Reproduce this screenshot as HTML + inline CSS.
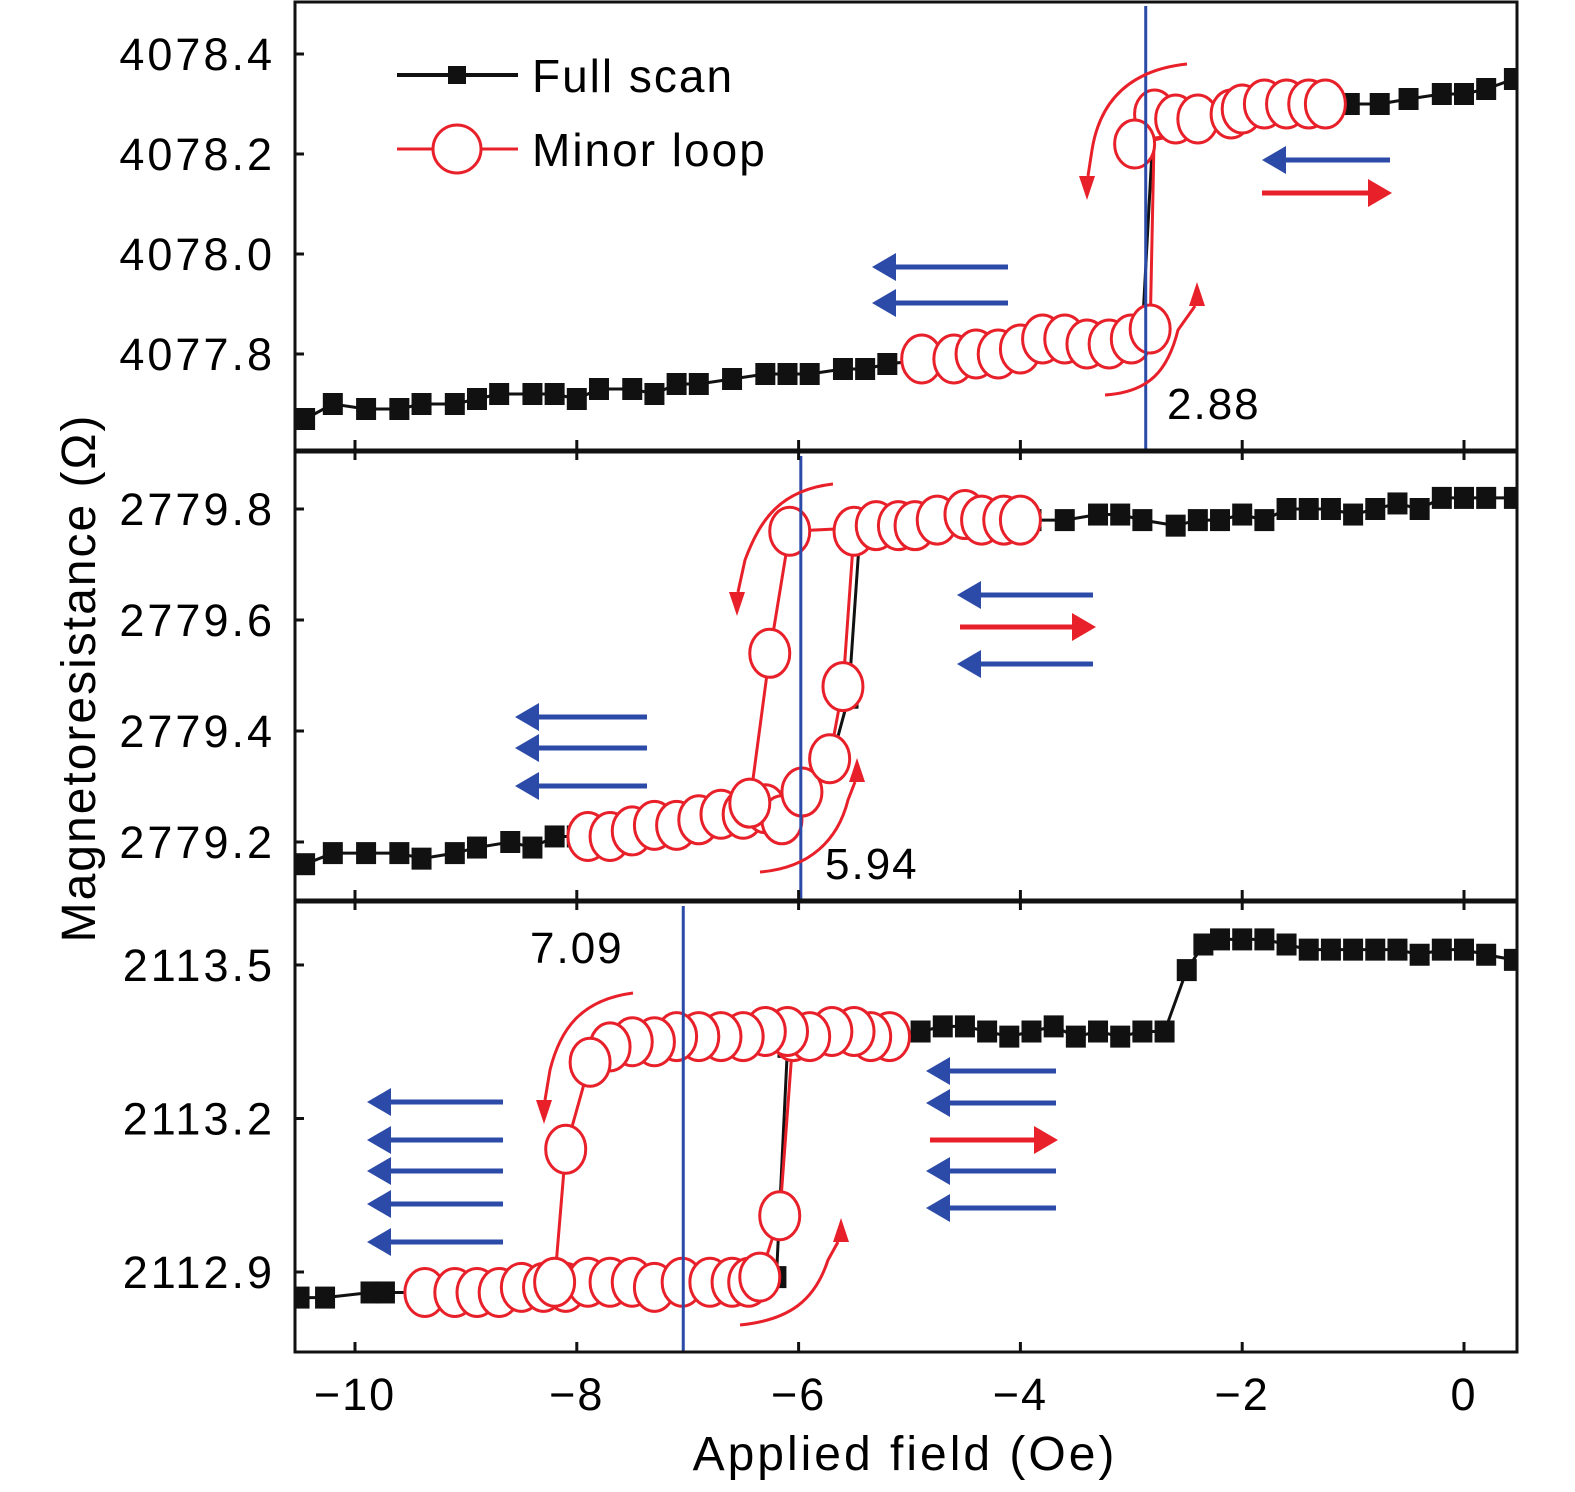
<!DOCTYPE html>
<html><head><meta charset="utf-8"><style>
body{margin:0;background:#fff}
svg{display:block}
text{font-family:"Liberation Sans",sans-serif}
</style></head><body>
<svg id="chart" width="1575" height="1492" viewBox="0 0 1575 1492" xmlns="http://www.w3.org/2000/svg">
<g id="plots"></g>
<g id="annot"></g>
<text x="0" y="0" transform="translate(95,678) rotate(-90)" text-anchor="middle" font-size="48" letter-spacing="2">Magnetoresistance (Ω)</text>
<text x="905" y="1470" text-anchor="middle" font-size="48" letter-spacing="3">Applied field (Oe)</text>
<g>
<line x1="397" y1="75" x2="518" y2="75" stroke="#111" stroke-width="4"/>
<rect x="448" y="66" width="18" height="18" fill="#111"/>
<text x="532" y="92" font-size="46" letter-spacing="2">Full scan</text>
<line x1="397" y1="149" x2="518" y2="149" stroke="#e8202a" stroke-width="3"/>
<ellipse cx="457" cy="149" rx="24" ry="24" fill="#fff" stroke="#e8202a" stroke-width="3"/>
<text x="532" y="166" font-size="46" letter-spacing="2">Minor loop</text>
</g>
</svg>
<script>
const xTicks=[-10,-8,-6,-4,-2,0];
const p1Ticks=[4077.8,4078.0,4078.2,4078.4];
const p2Ticks=[2779.2,2779.4,2779.6,2779.8];
const p3Ticks=[2112.9,2113.2,2113.5];
const p1FullX=[-10.45,-10.2,-9.9,-9.6,-9.4,-9.1,-8.9,-8.7,-8.4,-8.2,-8.0,-7.8,-7.5,-7.3,-7.1,-6.9,-6.6,-6.3,-6.1,-5.9,-5.6,-5.4,-5.2,-4.8,-4.4,-4.0,-3.6,-3.2,-2.9,-2.8,-2.4,-2.0,-1.6,-1.25,-1.03,-0.76,-0.5,-0.2,0.0,0.2,0.45];
const p1FullY=[4077.67,4077.70,4077.69,4077.69,4077.70,4077.70,4077.71,4077.72,4077.72,4077.72,4077.71,4077.73,4077.73,4077.72,4077.74,4077.74,4077.75,4077.76,4077.76,4077.76,4077.77,4077.77,4077.78,4077.79,4077.80,4077.81,4077.82,4077.83,4077.85,4078.26,4078.27,4078.28,4078.29,4078.29,4078.30,4078.30,4078.31,4078.32,4078.32,4078.33,4078.35];
const p1LoopX=[-4.89,-4.6,-4.4,-4.2,-4.0,-3.8,-3.6,-3.4,-3.2,-3.0,-2.83,-2.79,-2.6,-2.4,-2.1,-2.0,-1.8,-1.6,-1.4,-1.25,-2.97];
const p1LoopY=[4077.79,4077.79,4077.80,4077.80,4077.81,4077.83,4077.83,4077.82,4077.82,4077.83,4077.85,4078.28,4078.27,4078.27,4078.28,4078.29,4078.30,4078.30,4078.30,4078.30,4078.22];
const p2FullX=[-10.45,-10.2,-9.9,-9.6,-9.4,-9.1,-8.9,-8.6,-8.4,-8.2,-8.0,-7.6,-7.2,-6.8,-6.4,-6.0,-5.7,-5.55,-5.45,-5.0,-4.5,-3.9,-3.6,-3.3,-3.1,-2.9,-2.6,-2.4,-2.2,-2.0,-1.8,-1.6,-1.4,-1.2,-1.0,-0.8,-0.6,-0.4,-0.2,0,0.2,0.45];
const p2FullY=[2779.16,2779.18,2779.18,2779.18,2779.17,2779.18,2779.19,2779.20,2779.19,2779.21,2779.21,2779.22,2779.23,2779.24,2779.25,2779.28,2779.35,2779.46,2779.75,2779.77,2779.77,2779.78,2779.78,2779.79,2779.79,2779.78,2779.77,2779.78,2779.78,2779.79,2779.78,2779.80,2779.80,2779.80,2779.79,2779.80,2779.81,2779.80,2779.82,2779.82,2779.82,2779.82];
const p2LoopX=[-7.9,-7.7,-7.5,-7.3,-7.1,-6.9,-6.7,-6.5,-6.3,-6.15,-5.97,-5.72,-5.6,-5.5,-5.3,-5.1,-4.95,-4.75,-4.5,-4.35,-4.15,-4.0,-6.08,-6.26,-6.44];
const p2LoopY=[2779.21,2779.21,2779.22,2779.23,2779.23,2779.24,2779.25,2779.25,2779.26,2779.24,2779.29,2779.35,2779.48,2779.76,2779.77,2779.77,2779.77,2779.78,2779.79,2779.78,2779.78,2779.78,2779.76,2779.54,2779.27];
const p3FullX=[-10.5,-10.27,-9.86,-9.73,-9.3,-8.5,-7.5,-6.5,-6.2,-6.1,-5.5,-4.9,-4.7,-4.5,-4.3,-4.1,-3.9,-3.7,-3.5,-3.3,-3.1,-2.9,-2.7,-2.5,-2.35,-2.2,-2.0,-1.8,-1.6,-1.4,-1.2,-1.0,-0.8,-0.6,-0.4,-0.2,0,0.2,0.45];
const p3FullY=[2112.85,2112.85,2112.86,2112.86,2112.86,2112.87,2112.87,2112.88,2112.89,2113.34,2113.36,2113.37,2113.38,2113.38,2113.37,2113.36,2113.37,2113.38,2113.36,2113.37,2113.36,2113.37,2113.37,2113.49,2113.54,2113.55,2113.55,2113.55,2113.54,2113.53,2113.53,2113.53,2113.53,2113.53,2113.52,2113.53,2113.53,2113.52,2113.51];
const p3LoopX=[-9.37,-9.1,-8.9,-8.7,-8.5,-8.3,-8.1,-7.9,-7.7,-7.5,-7.3,-7.05,-6.8,-6.6,-6.45,-6.35,-6.17,-6.05,-5.18,-5.35,-5.5,-5.7,-5.9,-6.1,-6.3,-6.5,-6.7,-6.9,-7.1,-7.3,-7.5,-7.7,-7.88,-8.1,-8.2];
const p3LoopY=[2112.86,2112.86,2112.86,2112.86,2112.87,2112.87,2112.87,2112.88,2112.88,2112.88,2112.87,2112.88,2112.88,2112.88,2112.88,2112.89,2113.01,2113.36,2113.36,2113.36,2113.37,2113.37,2113.36,2113.37,2113.37,2113.36,2113.36,2113.36,2113.36,2113.35,2113.35,2113.34,2113.31,2113.14,2112.88];
const vlineX=[-2.87,-5.98,-7.04];
const vlineLabels=["2.88","5.94","7.09"];

const NS="http://www.w3.org/2000/svg";
const X0=295,X1=1517;
function xs(f){return 1464+110.9*f;}
const panels=[
 {top:2,bot:450,ys:v=>354-(v-4077.8)*500,ticks:p1Ticks,fx:p1FullX,fy:p1FullY,lx:p1LoopX,ly:p1LoopY,vl:vlineX[0],lab:vlineLabels[0],lp:[1167,419]},
 {top:452,bot:900,ys:v=>842-(v-2779.2)*555,ticks:p2Ticks,fx:p2FullX,fy:p2FullY,lx:p2LoopX,ly:p2LoopY,vl:vlineX[1],lab:vlineLabels[1],lp:[825,879]},
 {top:902,bot:1352,ys:v=>1272-(v-2112.9)*511.7,ticks:p3Ticks,fx:p3FullX,fy:p3FullY,lx:p3LoopX,ly:p3LoopY,vl:vlineX[2],lab:vlineLabels[2],lp:[530,963]}
];
function mk(tag,attrs,parent){const e=document.createElementNS(NS,tag);for(const k in attrs)e.setAttribute(k,attrs[k]);parent.appendChild(e);return e;}
const root=document.getElementById('plots');
panels.forEach((p,i)=>{
 const g=mk('g',{},root);
 
 
 const cp=mk('clipPath',{id:'cp'+i},g);
 mk('rect',{x:X0,y:p.top,width:X1-X0,height:p.bot-p.top},cp);
 const inner=mk('g',{'clip-path':'url(#cp'+i+')'},g);
 const fl=mk('polyline',{points:p.fx.map((f,j)=>xs(f)+','+p.ys(p.fy[j])).join(' '),fill:'none',stroke:'#111','stroke-width':3},inner);
 
 
 p.fx.forEach((f,j)=>{
  const r=mk('rect',{x:xs(f)-10,y:p.ys(p.fy[j])-11,width:20,height:22,fill:'#111'},inner);
  
  
 });
 const ll=mk('polyline',{points:p.lx.map((f,j)=>xs(f)+','+p.ys(p.ly[j])).join(' '),fill:'none',stroke:'#e8202a','stroke-width':3},inner);
 
 
 p.lx.forEach((f,j)=>{
  const c=mk('ellipse',{cx:xs(f),cy:p.ys(p.ly[j]),rx:20,ry:24,fill:'#fff',stroke:'#e8202a','stroke-width':3},inner);
  
  
 });
 const vl=mk('line',{x1:xs(p.vl),x2:xs(p.vl),y1:p.top+4,y2:p.bot,stroke:'#2c4aa8','stroke-width':3},inner);
 
 
 const lt=mk('text',{x:p.lp[0],y:p.lp[1],'font-size':44,'letter-spacing':2},g);
 lt.textContent=p.lab;
 
 
 mk('rect',{x:X0,y:p.top,width:X1-X0,height:p.bot-p.top,fill:'none',stroke:'#111','stroke-width':3},g);
 p.ticks.forEach(t=>{
  const y=p.ys(t);
  mk('line',{x1:X0,x2:X0+9,y1:y,y2:y,stroke:'#111','stroke-width':3},g);
  const tx=mk('text',{x:275,y:y+16,'text-anchor':'end','font-size':45,'letter-spacing':3},g);
  tx.textContent=t.toFixed(1);
  
  
 });
 xTicks.forEach(t=>{
  mk('line',{x1:xs(t),x2:xs(t),y1:p.bot,y2:p.bot-10,stroke:'#111','stroke-width':3},g);
  if(i>0) mk('line',{x1:xs(t),x2:xs(t),y1:p.top,y2:p.top+8,stroke:'#111','stroke-width':3},g);
 });
});
xTicks.forEach(t=>{
 const tx=mk('text',{x:xs(t),y:1410,'text-anchor':'middle','font-size':45,'letter-spacing':2},root);
 tx.textContent=(t<0?'\u2212':'')+Math.abs(t);
 
 
});
const an=document.getElementById('annot');
function blue(xr,xl,y){const e=mk('line',{x1:xr,x2:xl+12,y1:y,y2:y,stroke:'#2c4aa8','stroke-width':5},an);mk('path',{d:`M${xl},${y}L${xl+24},${y-14}L${xl+24},${y+14}z`,fill:'#2c4aa8'},an);}
function red(xl,xr,y){const e=mk('line',{x1:xl,x2:xr-12,y1:y,y2:y,stroke:'#e8202a','stroke-width':5},an);mk('path',{d:`M${xr},${y}L${xr-24},${y-14}L${xr-24},${y+14}z`,fill:'#e8202a'},an);}
blue(1390,1262,160);red(1262,1392,193);blue(1008,872,267);blue(1008,872,303);
blue(1093,957,595);red(960,1096,627);blue(1093,957,664);
blue(647,515,717);blue(647,515,748);blue(647,515,786);
blue(1056,926,1071);blue(1056,926,1103);red(930,1058,1140);blue(1056,926,1171);blue(1056,926,1208);
[1102,1140,1171,1204,1242].forEach(y=>blue(503,367,y));
function curve(d,hx,hy,dir){
 const e=mk('path',{d:d,fill:'none',stroke:'#e8202a','stroke-width':3},an);
 
 
 const s=dir>0?1:-1;
 mk('path',{d:`M${hx},${hy}L${hx-8},${hy+s*24}L${hx+8},${hy+s*24}z`,fill:'#e8202a'},an);
}
curve('M1187,64 C1130,70 1100,100 1092,150 L1088,176',1087,200,-1);
curve('M1105,395 C1150,392 1168,370 1178,330 L1195,306',1197,282,1);
curve('M833,484 C780,490 760,520 745,560 L738,592',737,616,-1);
curve('M760,872 C810,868 838,840 848,800 L855,782',857,758,1);
curve('M633,993 C580,1000 560,1030 550,1070 L545,1100',544,1124,-1);
curve('M740,1325 C790,1320 815,1300 828,1260 L838,1242',841,1218,1);
</script>
</body></html>
